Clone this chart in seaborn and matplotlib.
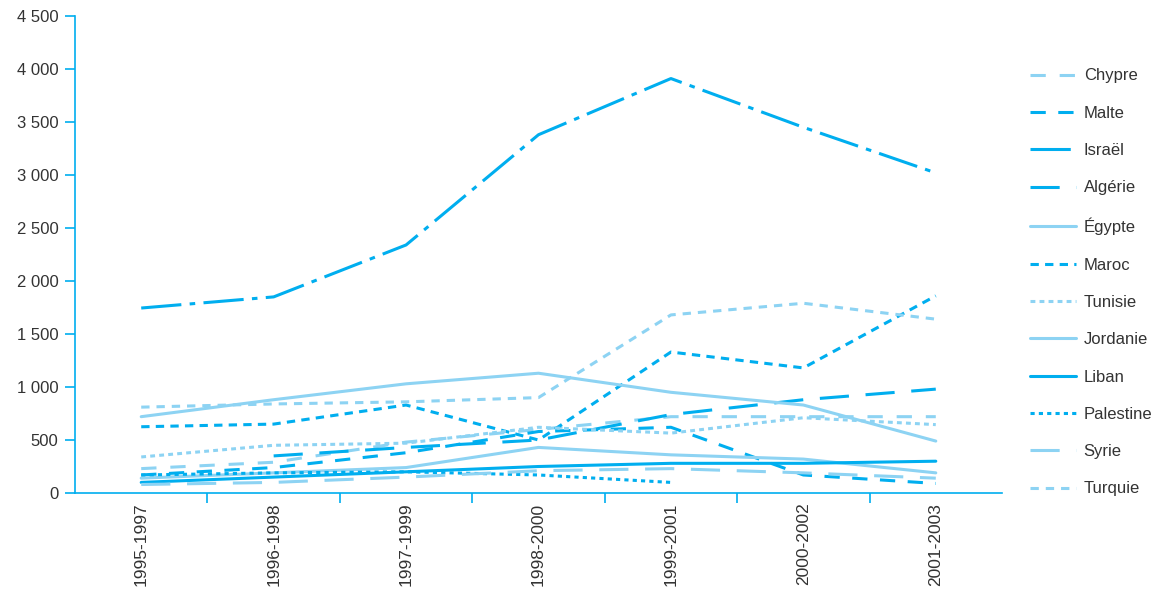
import numpy as np
import pandas as pd
import matplotlib
matplotlib.use("Agg")
import matplotlib.pyplot as plt
import seaborn as sns

periodes = ['1995-1997', '1996-1998', '1997-1999', '1998-2000',
            '1999-2001', '2000-2002', '2001-2003']

# valeurs
chypre = [230, 290, 480, 600, 720, 720, 720]
malte = [170, 240, 380, 580, 620, 170, 90]
israel = [1745, 1850, 2340, 3380, 3910, 3450, 3020]
algerie = [np.nan, 350, 430, 500, 740, 880, 980]
egypte = [140, 190, 240, 430, 360, 320, 190]
maroc = [625, 650, 830, 500, 1330, 1180, 1860]
tunisie = [340, 450, 470, 620, 565, 710, 645]
jordanie = [720, 880, 1030, 1130, 950, 830, 490]
liban = [100, 150, 200, 250, 280, 280, 300]
palestine = [170, 190, 200, 170, 100, np.nan, np.nan]
syrie = [80, 100, 150, 210, 230, 190, 140]
turquie = [810, 840, 860, 900, 1680, 1790, 1640]

vif = '#00aeef'
clair = '#8dd3f3'

series = [
    ('Chypre', chypre, clair, (0, (11, 10))),
    ('Malte', malte, vif, (0, (11, 9))),
    ('Israël', israel, vif, (0, (29, 6, 4, 6))),
    ('Algérie', algerie, vif, (0, (21, 12))),
    ('Égypte', egypte, clair, '-'),
    ('Maroc', maroc, vif, (0, (6, 4.5))),
    ('Tunisie', tunisie, clair, (0, (3.5, 3))),
    ('Jordanie', jordanie, clair, '-'),
    ('Liban', liban, vif, '-'),
    ('Palestine', palestine, vif, (0, (3, 3))),
    ('Syrie', syrie, clair, (0, (21, 12))),
    ('Turquie', turquie, clair, (0, (6, 5))),
]

sns.set_style('white')
plt.rcParams['font.family'] = ['Liberation Sans', 'DejaVu Sans']
plt.rcParams['lines.scale_dashes'] = False

fig = plt.figure(figsize=(11.6, 5.98), dpi=100)
ax = fig.add_axes([75 / 1160, 1 - 493 / 598, (1002 - 75) / 1160, (493 - 16) / 598])

x = np.arange(len(periodes))
for nom, vals, couleur, style in series:
    df = pd.DataFrame({'x': x, 'y': vals}).dropna()
    sns.lineplot(data=df, x='x', y='y', ax=ax, color=couleur, lw=2.2,
                 linestyle=style, label=nom, legend=False)

ax.set_xlim(-0.5, 6.5)
ax.set_ylim(0, 4500)
yt = np.arange(0, 4501, 500)
ax.set_yticks(yt)
ax.set_yticklabels([f'{v:,}'.replace(',', ' ') for v in yt])
ax.set_xticks(x)
ax.set_xticklabels(periodes, rotation=90, va='top')
ax.set_xticks(np.arange(0.5, 6, 1), minor=True)
ax.set_xlabel('')
ax.set_ylabel('')

for s in ['top', 'right']:
    ax.spines[s].set_visible(False)
for s in ['left', 'bottom']:
    ax.spines[s].set_color(vif)
    ax.spines[s].set_linewidth(1.2)

ax.tick_params(axis='y', which='major', left=True, length=7, width=1.2,
               color=vif, labelsize=12, labelcolor='#333333', pad=5)
ax.tick_params(axis='x', which='major', bottom=True, length=0,
               labelsize=12.5, labelcolor='#333333', pad=7)
ax.tick_params(axis='x', which='minor', bottom=True, length=7, width=1.2,
               color=vif)

handles, labels = ax.get_legend_handles_labels()
fig.legend(handles, labels, loc='upper left',
           bbox_to_anchor=(1022 / 1160, 1 - 60 / 598), frameon=False,
           fontsize=12, handlelength=2.75, handletextpad=0.45,
           labelspacing=1.34, borderpad=0, labelcolor='#333333')

fig.savefig('out.png', dpi=100)
